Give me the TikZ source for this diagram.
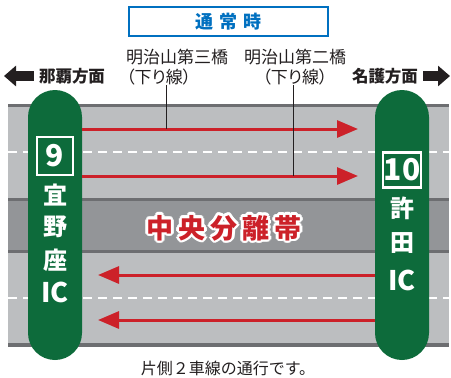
\documentclass[tikz,border=0pt]{standalone}
\usepackage{fontspec}
\setmainfont{Noto Sans CJK JP}
\newfontfamily\paltfont[RawFeature=+palt]{Noto Sans CJK JP}
\usetikzlibrary{arrows.meta}
\definecolor{icgreen}{RGB}{13,107,59}
\definecolor{lanered}{RGB}{204,33,41}
\definecolor{roadgray}{RGB}{188,190,192}
\definecolor{mediangray}{RGB}{147,149,152}
\definecolor{edgegray}{RGB}{109,110,113}
\definecolor{titleblue}{RGB}{0,112,192}
\definecolor{inkblack}{RGB}{35,31,32}
\tikzset{
  icpill/.style={fill=icgreen, rounded corners=27pt, minimum width=54pt,
    minimum height=270pt, inner sep=0pt},
  icnum/.style={draw=white, line width=2.5pt, text=white, inner sep=0pt,
    font=\bfseries\fontsize{30}{30}\selectfont},
  icname/.style={text=white, inner sep=0pt, font=\bfseries\fontsize{24}{24}\selectfont},
  iclatin/.style={text=white, inner sep=0pt, font=\bfseries\fontsize{27}{27}\selectfont},
  lane/.style={draw=lanered, line width=3pt, -{Triangle[length=21pt,width=17pt]}},
  dirarrow/.style={draw=inkblack, line width=10pt, -{Triangle[length=12pt,width=20pt]}},
  dirtext/.style={inner sep=0pt, text=inkblack, font=\bfseries\fontsize{16.5}{16.5}\selectfont},
  bridge/.style={inner sep=0pt, text=inkblack, font=\fontsize{17}{20}\selectfont},
  median/.style={inner sep=0pt, font=\bfseries\fontsize{27}{27}\selectfont}
}
\begin{document}
\begin{tikzpicture}[x=1pt,y=-1pt]
  \useasboundingbox (0,0) rectangle (451,378);
  % road
  \fill[roadgray] (8,104) rectangle (449,347);
  \fill[mediangray] (8,198) rectangle (449,253);
  \fill[edgegray] (8,104) rectangle (449,107);
  \fill[edgegray] (8,198) rectangle (449,201);
  \fill[edgegray] (8,250) rectangle (449,253);
  \fill[edgegray] (8,343) rectangle (449,347);
  \draw[white, line width=1.5pt, dash pattern=on 9pt off 6pt] (8,152) -- (449,152);
  \draw[white, line width=1.5pt, dash pattern=on 9pt off 6pt] (8,298) -- (449,298);

  % title
  \draw
    (228.5,21.5) node[draw=titleblue, line width=1.2pt, fill=white, minimum width=199pt,
      minimum height=29pt, text=titleblue, font=\bfseries\fontsize{18}{18}\selectfont]
      (title) {通\hspace{6pt}常\hspace{6pt}時};

  % bridges and directions
  \draw
    (126,49) node[bridge, anchor=north west, align=left] (bridge3)
      {明治山第三橋\\{\paltfont （下り線）}}
    (295,49) node[bridge, anchor=north, align=center] (bridge2)
      {明治山第二橋\\{\paltfont （下り線）}}
    (72,76) node[dirtext] (naha) {那覇方面}
    (385,76) node[dirtext] (nago) {名護方面};
  \coordinate (nahatip) at (4,76);
  \coordinate (nagotip) at (450,76);
  \draw[dirarrow] ([xshift=-5pt]naha.west) -- (nahatip);
  \draw[dirarrow] ([xshift=5pt]nago.east) -- (nagotip);

  % lanes
  \coordinate (up1) at (358,129);
  \coordinate (up2) at (358,176);
  \coordinate (down1) at (98,275);
  \coordinate (down2) at (98,320);
  \coordinate (leader3) at (166,129);
  \coordinate (leader2) at (293,176);
  \node[icpill] (ginoza) at (55,225) {};
  \node[icpill] (kyoda) at (402,225) {};
  \draw[lane] (ginoza.east |- up1) -- (up1);
  \draw[lane] (ginoza.east |- up2) -- (up2);
  \draw[lane] (kyoda.west |- down1) -- (down1);
  \draw[lane] (kyoda.west |- down2) -- (down2);
  \draw[inkblack, line width=0.6pt] (bridge3.south -| leader3) -- (leader3);
  \draw[inkblack, line width=0.6pt] (bridge2.south -| leader2) -- (leader2);

  % interchanges
  \draw
    (55,156) node[icnum, minimum width=36pt, minimum height=38pt] (num9) {9}
    (55,195) node[icname] (gi) {宜}
    (55,227) node[icname] (no) {野}
    (55,260) node[icname] (za) {座}
    (55,292) node[iclatin] (icleft) {IC}
    (402,170) node[icnum, minimum width=38pt, minimum height=35pt] (num10) {10}
    (402,208) node[icname] (kyo) {許}
    (402,243) node[icname] (da) {田}
    (402,280) node[iclatin] (icright) {IC};

  % median
  \foreach \a in {0,30,...,330}
    \node[median, text=white, xshift={2.6pt*cos(\a)}, yshift={2.6pt*sin(\a)}]
      (halo\a) at (224,228) {中\hspace{5pt}央\hspace{5pt}分\hspace{5pt}離\hspace{5pt}帯};
  \node[median, text=lanered] (chuo) at (224,228)
    {中\hspace{5pt}央\hspace{5pt}分\hspace{5pt}離\hspace{5pt}帯};

  % note
  \node[inner sep=0pt, text=inkblack, font=\fontsize{16}{16}\selectfont] (note)
    at (228,368) {片側２車線の通行です。};
\end{tikzpicture}
\end{document}
